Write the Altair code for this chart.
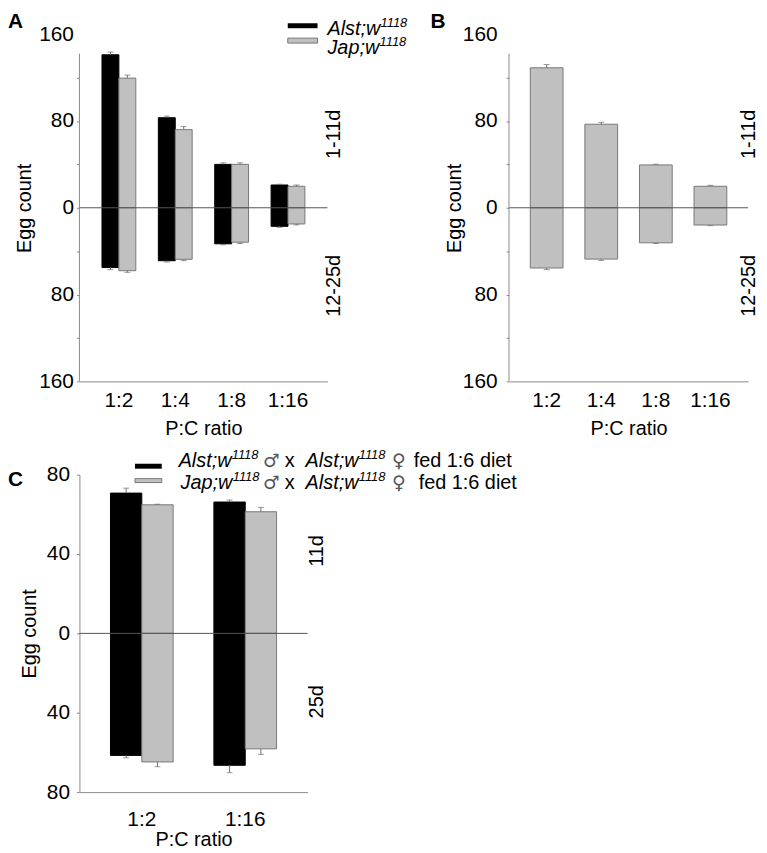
import altair as alt
import pandas as pd

FONT = "Liberation Sans"
AX = "#8a8a8a"
ERR = "#6e6e6e"
GREY = "#c0c0c0"
GREY_EDGE = "#777777"

# ---------------- data ----------------
genotypes = ["Alst", "Jap"]
ratios_ab = ["1:2", "1:4", "1:8", "1:16"]

a_alst_1_11 = [141, 83, 40, 21]
a_alst_1_11_se = [2.5, 1.5, 1.4, 0.7]
a_jap_1_11 = [119.5, 72, 40, 19.8]
a_jap_1_11_se = [2.8, 2.8, 1.4, 1.2]
a_alst_12_25 = [55, 48.8, 33.2, 17.1]
a_alst_12_25_se = [2.0, 1.2, 0.9, 0.9]
a_jap_12_25 = [58, 47.5, 31.7, 14.9]
a_jap_12_25_se = [1.5, 1.3, 1.2, 0.9]

b_1_11 = [129, 77, 39.5, 19.8]
b_1_11_se = [3.0, 1.8, 0.6, 0.9]
b_12_25 = [55.5, 47.3, 32.3, 15.9]
b_12_25_se = [1.5, 1.2, 0.6, 0.6]

ratios_c = ["1:2", "1:16"]
c_alst_11d = [70.7, 66.2]
c_alst_11d_se = [2.5, 1.0]
c_jap_11d = [64.8, 61.3]
c_jap_11d_se = [0.3, 2.2]
c_alst_25d = [61.5, 66.5]
c_alst_25d_se = [1.2, 3.7]
c_jap_25d = [64.8, 58.2]
c_jap_25d_se = [2.4, 2.8]

yvals_ab = [-160, -120, -80, -40, 0, 40, 80, 120, 160]
yvals_c = [-80, -40, 0, 40, 80]

ONE = pd.DataFrame({"k": [0]})


def build_df(ratios, series):
    rows = []
    for g, sign, vals, ses in series:
        for r, v, e in zip(ratios, vals, ses):
            rows.append({"ratio": r, "genotype": g, "value": sign * v,
                         "err_end": sign * (v + e)})
    return pd.DataFrame(rows)


df_a = build_df(ratios_ab, [
    ("Alst", 1, a_alst_1_11, a_alst_1_11_se),
    ("Jap", 1, a_jap_1_11, a_jap_1_11_se),
    ("Alst", -1, a_alst_12_25, a_alst_12_25_se),
    ("Jap", -1, a_jap_12_25, a_jap_12_25_se),
])
df_b = build_df(ratios_ab, [
    ("Jap", 1, b_1_11, b_1_11_se),
    ("Jap", -1, b_12_25, b_12_25_se),
])
df_c = build_df(ratios_c, [
    ("Alst", 1, c_alst_11d, c_alst_11d_se),
    ("Jap", 1, c_jap_11d, c_jap_11d_se),
    ("Alst", -1, c_alst_25d, c_alst_25d_se),
    ("Jap", -1, c_jap_25d, c_jap_25d_se),
])


def seg(s, x, y, size=20, style="normal", weight="normal", baseline="alphabetic",
        align="left", font=FONT, color="black"):
    return alt.Chart(ONE).mark_text(
        text=s, font=font, fontSize=size, fontStyle=style, fontWeight=weight,
        baseline=baseline, align=align, color=color
    ).encode(x=alt.value(x), y=alt.value(y))


def side_label(s, x, yval):
    return alt.Chart(ONE).mark_text(
        text=s, font=FONT, fontSize=20, angle=270, align="center",
        baseline="middle", color="black"
    ).encode(x=alt.value(x), y=alt.YDatum(yval))


def panel(df, ratios, width, height, ymax, yvals, step, pad_in, pad_out,
          grouped, y_label_pad, y_title_x, x_label_pad, x_title_y, axis_top=None):
    ys = alt.Scale(domain=[-ymax, ymax], nice=False, zero=False)
    xs = alt.Scale(domain=ratios, paddingInner=pad_in, paddingOuter=pad_out)
    xaxis = alt.Axis(labelAngle=0, ticks=False, domainColor=AX, labelPadding=x_label_pad,
                     title="P:C ratio", titleY=x_title_y, titleBaseline="middle",
                     labelFontSize=21, titleFontSize=20, titleFontWeight="normal",
                     labelColor="black", titleColor="black", labelFont=FONT, titleFont=FONT)
    tick_test = f"datum.value == {ymax}" if axis_top is not None else "false"
    yaxis = alt.Axis(values=yvals,
                     labelExpr=f"datum.value % {step} == 0 ? toString(abs(datum.value)) : ''",
                     tickSize=3,
                     tickColor={"condition": {"test": tick_test, "value": "transparent"}, "value": AX},
                     domain=axis_top is None, domainColor=AX, grid=False,
                     labelPadding=y_label_pad, labelOverlap=False,
                     title="Egg count", titleX=y_title_x, titleY=height / 2, titleAngle=270,
                     titleAlign="center", titleBaseline="middle",
                     labelFontSize=21, titleFontSize=20, titleFontWeight="normal",
                     labelColor="black", titleColor="black", labelFont=FONT, titleFont=FONT)
    x_main = alt.X("ratio:N", scale=xs, sort=ratios, axis=xaxis)
    extra = {}
    if grouped:
        extra["xOffset"] = alt.XOffset("genotype:N", sort=genotypes,
                                       scale=alt.Scale(domain=genotypes, paddingInner=0, paddingOuter=0))
    color = alt.Color("genotype:N", scale=alt.Scale(domain=genotypes, range=["#000000", GREY]), legend=None)
    stroke = alt.Stroke("genotype:N", scale=alt.Scale(domain=genotypes, range=["#000000", GREY_EDGE]), legend=None)
    base = alt.Chart(df)
    bars = base.mark_bar(strokeWidth=1).encode(
        x=x_main, y=alt.Y("value:Q", scale=ys, axis=yaxis), fill=color, stroke=stroke, **extra)
    errs = base.mark_rule(color=ERR, strokeWidth=1).encode(
        x=alt.X("ratio:N", sort=ratios), y=alt.Y("value:Q"), y2="err_end:Q", **extra)
    caps = base.mark_tick(orient="horizontal", size=6, thickness=1, color=ERR).encode(
        x=alt.X("ratio:N", sort=ratios), y=alt.Y("err_end:Q"), **extra)
    zero = alt.Chart(ONE).mark_rule(color="#555555", strokeWidth=1).encode(
        x=alt.value(0), x2=alt.value(width), y=alt.YDatum(0))
    layers = [bars, errs, caps, zero]
    if axis_top is not None:
        layers.append(alt.Chart(ONE).mark_rule(color=AX, strokeWidth=1).encode(
            x=alt.value(0), y=alt.YDatum(-ymax), y2=alt.Y2Datum(axis_top)))
    return layers


# ---------------- panel A ----------------
la = panel(df_a, ratios_ab, 250, 350, 160, yvals_ab, 80, 0.40, 0.40, True,
           3, -55, 8, 48, axis_top=142)
la += [
    seg("A", -72, -23, size=21, weight="bold", baseline="top"),
    side_label("1-11d", 257, 67.6),
    side_label("12-25d", 257, -72),
    alt.Chart(ONE).mark_rect(color="black").encode(
        x=alt.value(210), x2=alt.value(240), y=alt.value(-11), y2=alt.value(-6)),
    alt.Chart(ONE).mark_rect(fill=GREY, stroke=GREY_EDGE, strokeWidth=1).encode(
        x=alt.value(210), x2=alt.value(240), y=alt.value(4), y2=alt.value(9)),
    seg("Alst;w", 250, 1, style="italic"),
    seg("1118", 303.5, -7, size=13, style="italic"),
    seg("Jap;w", 250, 20, style="italic"),
    seg("1118", 302.5, 12, size=13, style="italic"),
]
chart_a = alt.layer(*la).properties(width=250, height=350)

# ---------------- panel B ----------------
lb = panel(df_b, ratios_ab, 241, 350, 160, yvals_ab, 80, 0.40, 0.39, False,
           9, -55, 8, 48, axis_top=142)
lb += [
    seg("B", -79, -23, size=21, weight="bold", baseline="top"),
    side_label("1-11d", 242, 67.6),
    side_label("12-25d", 242, -72),
]
chart_b = alt.layer(*lb).properties(width=241, height=350)

# ---------------- panel C ----------------
lc = panel(df_c, ratios_c, 230, 320, 80, yvals_c, 40, 0.394, 0.30, True,
           7, -50, 17, 48)
sym = "DejaVu Sans"
lc += [
    seg("C", -72, -6, size=21, weight="bold", baseline="top"),
    side_label("11d", 240, 41.5),
    side_label("25d", 240, -34.5),
    alt.Chart(ONE).mark_rect(color="black").encode(
        x=alt.value(56), x2=alt.value(83), y=alt.value(-11), y2=alt.value(-6)),
    alt.Chart(ONE).mark_rect(fill=GREY, stroke=GREY_EDGE, strokeWidth=1).encode(
        x=alt.value(56), x2=alt.value(83), y=alt.value(4), y2=alt.value(8)),
    seg("Alst;w", 100, -8, style="italic"),
    seg("1118", 153.5, -16, size=13, style="italic"),
    seg("\u2642", 185, -8, size=19, font=sym, color="#555555"),
    seg("x", 207, -8),
    seg("Alst;w", 228, -8, style="italic"),
    seg("1118", 281.5, -16, size=13, style="italic"),
    seg("\u2640", 315, -8, size=19, font=sym, color="#555555"),
    seg("fed 1:6 diet", 337, -8),
    seg("Jap;w", 102, 14, style="italic"),
    seg("1118", 154.5, 6, size=13, style="italic"),
    seg("\u2642", 185, 14, size=19, font=sym, color="#555555"),
    seg("x", 207, 14),
    seg("Alst;w", 228, 14, style="italic"),
    seg("1118", 281.5, 6, size=13, style="italic"),
    seg("\u2640", 315, 14, size=19, font=sym, color="#555555"),
    seg("fed 1:6 diet", 342, 14),
]
chart_c = alt.layer(*lc).properties(width=230, height=320)

top = alt.hconcat(chart_a, chart_b, spacing=23).resolve_scale(xOffset="independent")
chart = alt.vconcat(top, chart_c, spacing=10).resolve_scale(
    xOffset="independent").properties(padding=0).configure(
    font=FONT).configure_view(stroke=None, strokeWidth=0)

chart.save("out.html", embed_options={"renderer": "svg", "actions": False})
